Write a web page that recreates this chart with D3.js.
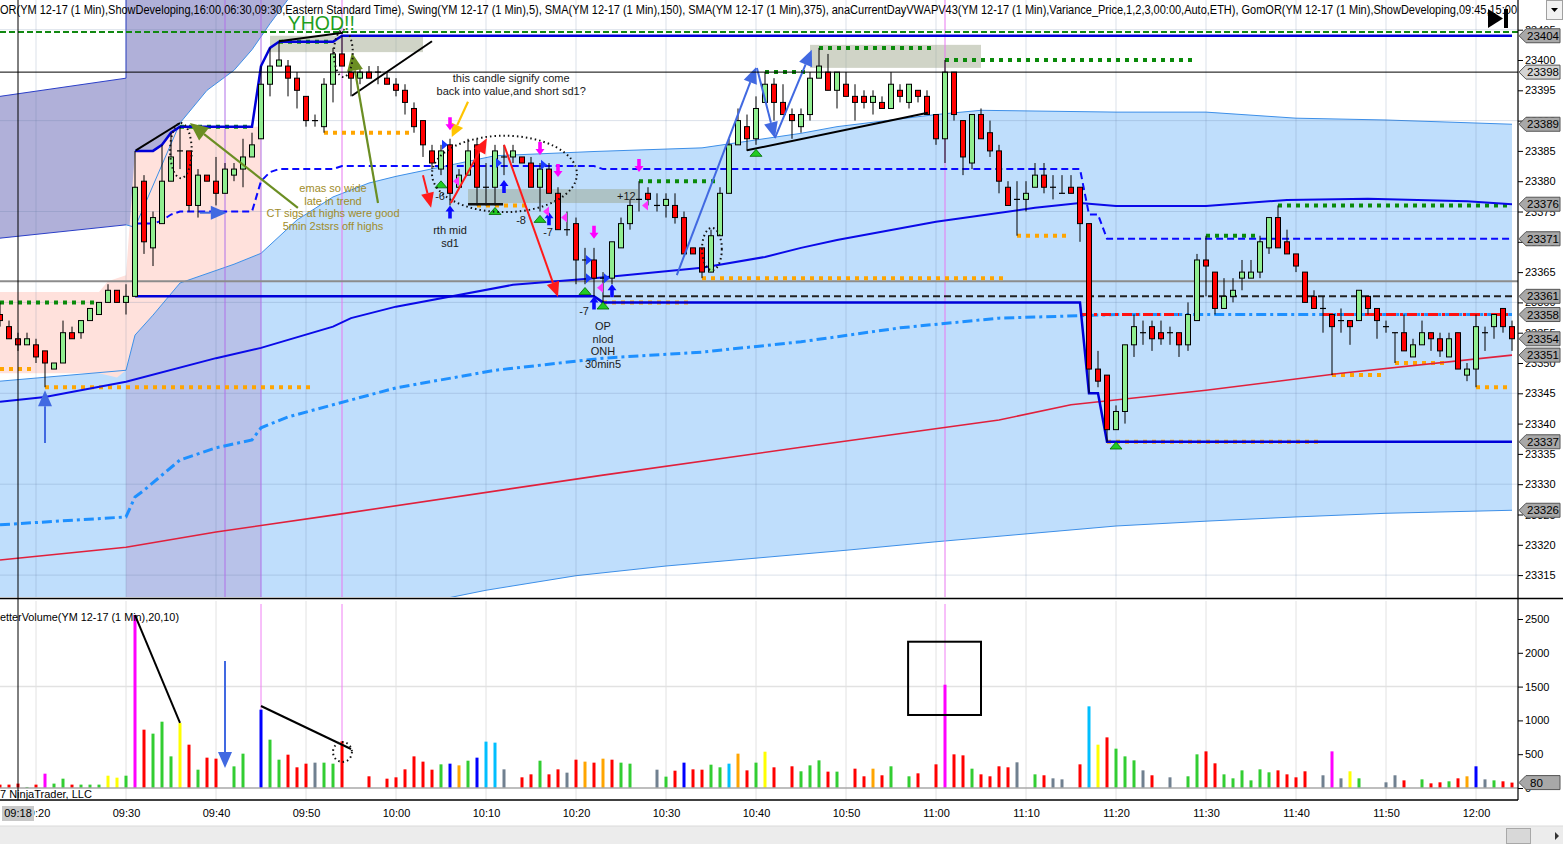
<!DOCTYPE html>
<html>
<head>
<meta charset="utf-8">
<title>YM 12-17 (1 Min)</title>
<script src="https://cdn.jsdelivr.net/npm/d3@7/dist/d3.min.js"></script>
<style>
  html, body { margin: 0; padding: 0; background: #fff; overflow: hidden; }
  svg { display: block; font-family: "Liberation Sans", Arial, sans-serif; }
</style>
</head>
<body>
<svg id="chart" width="1563" height="844"></svg>
<script>
// ---------- 1 minute bars, YM 12-17, first bar 09:16 ----------
const barStart = "09:16";
const opens = [
  23358,23356,23354,23353,23353,23352,23349,23350,23355,23355,
  23357,23358,23360,23362,23360,23361,23380,23369,23373,23380,
  23385,23385,23376,23381,23380,23378,23381,23382,23384,23387,
  23396,23399,23399,23397,23394,23390,23389,23396,23401,23398,
  23397,23398,23398,23397,23396,23395,23392,23390,23385,23382,
  23386,23379,23381,23386,23379,23379,23384,23384,23384,23383,
  23379,23382,23378,23372,23373,23367,23367,23364,23364,23369,
  23373,23377,23378,23376,23376,23376,23374,23369,23369,23365,
  23371,23378,23386,23389,23387,23393,23396,23393,23391,23389,
  23391,23397,23398,23395,23396,23394,23394,23393,23393,23392,
  23395,23393,23395,23394,23391,23387,23398,23390,23383,23391,
  23388,23385,23379,23377,23377,23379,23381,23379,23378,23379,
  23379,23373,23349,23348,23339,23342,23353,23355,23356,23355,
  23355,23355,23353,23357,23367,23365,23359,23361,23364,23364,
  23365,23369,23374,23370,23368,23365,23361,23359,23358,23357,
  23357,23357,23361,23359,23356,23355,23355,23351,23353,23355,
  23354,23351,23355,23348,23349,23355,23356,23359,23356
];
const highs = [
  23360,23357,23355,23355,23354,23352,23350,23357,23356,23357,
  23359,23360,23363,23362,23363,23385,23381,23375,23386,23388,
  23389,23385,23382,23381,23384,23383,23383,23387,23388,23399,
  23402,23403,23400,23398,23394,23391,23397,23402,23404,23399,
  23399,23399,23399,23398,23397,23396,23393,23390,23386,23386,
  23387,23382,23387,23387,23383,23386,23386,23386,23384,23384,
  23383,23383,23379,23375,23374,23369,23369,23365,23370,23374,
  23377,23380,23379,23378,23378,23378,23375,23369,23369,23372,
  23379,23387,23392,23391,23394,23398,23397,23396,23392,23392,
  23398,23402,23401,23398,23398,23396,23395,23395,23394,23398,
  23396,23396,23395,23395,23391,23400,23398,23390,23391,23392,
  23390,23386,23380,23380,23380,23383,23383,23381,23381,23381,
  23379,23373,23352,23348,23343,23353,23358,23357,23357,23357,
  23356,23355,23360,23368,23371,23365,23364,23364,23367,23367,
  23371,23374,23376,23372,23368,23365,23362,23361,23358,23359,
  23357,23362,23361,23359,23357,23355,23358,23354,23357,23355,
  23355,23355,23355,23350,23358,23356,23358,23359,23357
];
const lows = [
  23356,23354,23352,23353,23350,23346,23349,23350,23354,23354,
  23357,23358,23360,23360,23358,23361,23368,23366,23373,23380,
  23382,23375,23374,23380,23376,23378,23380,23379,23384,23387,
  23394,23399,23394,23392,23389,23389,23388,23393,23399,23394,
  23396,23397,23396,23396,23394,23391,23388,23384,23382,23381,
  23376,23379,23381,23376,23376,23376,23381,23383,23383,23379,
  23375,23378,23372,23371,23363,23363,23361,23360,23363,23369,
  23372,23375,23376,23375,23374,23373,23368,23368,23364,23365,
  23371,23378,23386,23385,23386,23393,23390,23391,23387,23388,
  23390,23397,23395,23392,23394,23390,23392,23391,23392,23392,
  23393,23392,23393,23391,23386,23383,23390,23381,23382,23387,
  23384,23378,23376,23371,23375,23379,23378,23377,23378,23378,
  23370,23345,23346,23337,23339,23340,23351,23353,23352,23353,
  23353,23351,23352,23357,23361,23358,23359,23360,23362,23364,
  23364,23368,23369,23368,23365,23360,23359,23355,23348,23355,
  23353,23357,23358,23354,23355,23350,23352,23351,23353,23352,
  23351,23351,23349,23347,23346,23352,23354,23355,23352
];
const closes = [
  23357,23354,23353,23354,23351,23350,23350,23355,23354,23357,
  23359,23360,23362,23360,23361,23379,23370,23374,23380,23384,
  23385,23376,23381,23380,23378,23382,23382,23384,23386,23396,
  23399,23400,23397,23395,23390,23390,23396,23401,23399,23397,
  23398,23397,23398,23396,23395,23393,23389,23386,23383,23385,
  23378,23381,23385,23379,23379,23385,23384,23385,23383,23379,
  23382,23378,23372,23372,23367,23367,23364,23364,23370,23373,
  23376,23377,23377,23376,23377,23374,23368,23368,23365,23371,
  23378,23386,23390,23387,23392,23396,23393,23391,23390,23391,
  23397,23399,23395,23398,23394,23393,23393,23394,23392,23396,
  23394,23396,23394,23391,23387,23398,23391,23384,23391,23387,
  23385,23380,23376,23377,23378,23381,23379,23379,23378,23378,
  23373,23349,23347,23339,23342,23353,23356,23355,23354,23354,
  23355,23353,23358,23367,23366,23359,23361,23362,23365,23365,
  23370,23374,23369,23368,23366,23360,23359,23359,23356,23357,
  23356,23362,23359,23357,23356,23355,23352,23353,23355,23354,
  23352,23354,23349,23349,23356,23355,23358,23356,23354
];
// BetterVolume(20,10)
const volumes = [
  50,50,65,15,50,212,65,138,50,50,
  50,50,182,153,182,2560,863,804,981,468,
  962,641,271,449,434,0,320,508,0,1159,
  715,419,493,306,360,375,375,360,690,0,
  0,173,0,138,158,276,468,390,271,350,
  360,335,404,449,686,671,276,0,158,202,
  404,202,276,227,419,390,375,434,419,375,
  360,0,0,271,168,256,375,276,271,345,
  306,360,508,261,375,537,306,0,321,247,
  335,409,242,242,0,286,173,286,188,321,
  0,173,217,0,350,1528,498,483,286,202,
  173,321,306,380,0,202,188,143,128,0,
  350,1208,641,749,582,468,409,261,188,0,
  158,0,173,498,542,365,202,143,261,113,
  276,232,261,202,158,247,0,188,542,143,
  247,143,0,0,84,188,113,0,128,69,
  84,99,143,173,321,128,113,99,80
];
const volColors = (
  "rrrgrmggrg" + "ggyygmrggg" + "yrgrr-gg-b" + "ggrrrkggr-" + "-r-rrrrrrg" +
  "bogbcck-rr" + "grrkrororg" + "g--kgrbrrg" + "gcorgyr-rg" + "ggrg-rrorg" +
  "-gr-rmrrgr" + "rrrk-grkk-" + "rcyrgggkr-" + "k-ggrrgggg" + "ggrrrr-kmk" +
  "yg--kkr-gr" + "rgrobkgrr").split("");

// ---------- indicators ----------
const vwapUpper = [["09:16",23347],["09:30",23348.8],["09:31",23354.6],["09:33",23357.9],["09:36",23363.2],
  ["09:42",23366.3],["09:45",23368.1],["09:49",23373.6],["09:53",23377.4],["09:57",23379.7],["10:00",23380.8],
  ["10:11",23384.2],["10:22",23384.9],["10:34",23385.5],["10:45",23387.9],["10:49",23389],["11:00",23391],
  ["11:05",23391.7],["11:20",23391.4],["11:30",23391.4],["11:40",23390.4],["11:50",23390.1],["12:04",23389.4]];
const vwapLower = [["09:16",23280],["09:45",23290],["10:00",23305],["10:05",23311],["10:10",23312.5],
  ["10:20",23314.9],["10:30",23316.5],["10:40",23317.8],["10:50",23319.1],["11:00",23320.5],["11:10",23321.8],
  ["11:20",23323.1],["11:30",23323.9],["11:40",23324.6],["11:50",23325.2],["12:04",23325.7]];
const sma150 = [["09:16",23343.6],["09:21",23344.4],["09:30",23346.9],["09:40",23350.8],["09:45",23352.5],
  ["09:53",23356],["09:55",23357.4],["10:00",23359.3],["10:13",23362.9],["10:22",23364],["10:34",23365.7],
  ["10:41",23367.5],["10:45",23369],["10:49",23370.3],["11:00",23373.3],["11:11",23375.6],["11:16",23376.4],
  ["11:20",23375.9],["11:30",23375.9],["11:39",23376.9],["11:48",23377.1],["11:59",23376.7],["12:04",23376.2]];
const sma375 = [["09:16",23317.5],["09:30",23319.6],["09:40",23322.1],["09:53",23324.9],["10:23",23331.5],
  ["10:45",23336.1],["11:07",23340.6],["11:15",23343.1],["11:30",23345.5],["11:45",23348.3],["12:04",23351.3]];
const vwapLine = [["09:16",23323.3],["09:30",23324.6],["09:31",23327.9],["09:32",23329],["09:36",23334],
  ["09:40",23336],["09:44",23337.3],["09:45",23339.3],["09:48",23341.1],["09:53",23343.1],["10:00",23345.9],
  ["10:11",23348.8],["10:23",23350.8],["10:34",23351.8],["10:45",23353.5],["10:56",23355.8],["11:07",23357.4],
  ["11:16",23357.8],["11:20",23358],["12:04",23358]];
const vwapRedSpans = [["11:16","11:27"],["11:43","12:04"]];

// opening range / overnight shading
const purpleTop = [["09:16",23394],["09:30",23397]];
const purpleLow = [["09:16",23370.6],["09:30",23372.8],["09:31",23372.4],["09:36",23389.6],["09:39",23395],
  ["09:42",23398.3],["09:44",23401.7],["09:46",23406],["09:48",23410]];
const pinkTop = [["09:16",23361.7],["09:27",23361.7],["09:28",23363.5],["09:30",23364.5],["09:31",23385],
  ["09:33",23385],["09:34",23386],["09:35",23388],["09:36",23389],["09:45",23389]];
const pinkLow = [["09:16",23348.3],["09:27",23348.3],["09:29",23347.6],["09:30",23348.8],["09:31",23354.6],
  ["09:33",23357.9],["09:36",23363.2],["09:42",23366.3],["09:45",23368.1]];
const orStart = "09:31";

// levels
const yhod = 23404.6;
const onhLevel = 23363.5;
const lodLevel = { p: 23361, from: "10:23" };
const crosshair = { t: "09:18", p: 23398 };
const swingHighs = [["09:16","09:27",23360],["09:36","09:44",23389],["09:47","09:53",23403],["10:27","10:36",23380],
  ["10:41","10:46",23398],["10:47","11:00",23402],["11:01","11:29",23400],["11:30","11:36",23371],["11:38","12:04",23376]];
const swingLows = [["09:16","09:20",23349],["09:21","09:51",23346],["09:52","10:02",23388],["10:09","10:15",23376],
  ["10:23","10:33",23360],["10:34","11:08",23364],["11:09","11:15",23371],["11:19","11:43",23337],
  ["11:44","11:50",23348],["11:51","11:57",23350],["12:00","12:04",23346]];
const sessionLines = ["09:41","09:45","09:54","11:01"];
const volSessionLines = ["09:45","09:54","11:01"];

// signal markers [time, price]
const swingTriangles = [["10:05",23379.4],["10:11",23375],["10:16",23373.7],["10:21",23361.8],["10:23",23359.4],["10:40",23384.6],["11:20",23336.3]];
const downArrows = [["10:06",23389.4],["10:16",23385.3],["10:18",23381.7],["10:22",23371.5],["10:27",23382.5]];
const upArrows = [["10:06",23375],["10:12",23379.2],["10:17",23373.9],["10:22",23360],["10:24",23362]];
const leftMarks = [["10:06",23380],["10:16",23375],["10:18",23374],["10:22",23362.4],["10:27",23376]];
const rightMarks = [["10:06",23386],["10:12",23383],["10:17",23382.7],["10:22",23367],["10:22",23364],["10:24",23364]];

// hand drawn objects [t1, p1, t2, p2]
const grayBoxes = [["09:46",23404,"10:03",23401.3],["10:08",23378.7,"10:26.9",23376.4],["10:46",23402.5,"11:05",23398.7]];
const blackLines = [["09:31.1",23385.1,"09:36",23389.6],["09:47",23403.1,"09:54.1",23404.5],
  ["09:55.1",23394.1,"10:04",23403.1],["10:39",23385.1,"10:59.1",23391.3]];
const blackBar = ["10:08",23376.2,"10:11.9",23376.2];
const oliveArrows = [["09:49.1",23375.6,"09:37.1",23389.6],["09:58",23376.4,"09:55.1",23401.2]];
const blueArrows = [["09:38.2",23374.8,"09:41.2",23374.8],["09:21",23336.8,"09:21",23345.5],
  ["10:31.2",23364.5,"10:40",23398.8],["10:40.1",23398.7,"10:42.1",23387.1],["10:42.1",23387.1,"10:46.2",23401.7]];
const redArrows = [["10:03",23381,"10:03.9",23375.6],["10:06.1",23376.4,"10:10.1",23387.1],["10:12",23386,"10:18",23360.9]];
const yellowArrows = [["10:08",23393.1,"10:06.2",23387.3]];
const ellipses = [["09:34.9",23389.6,"09:37.3",23380.5],["09:53.1",23405,"09:55.2",23397.2],
  ["10:04",23387.5,"10:20.1",23374.9],["10:34",23372.3,"10:36.2",23365.3]];
const volLines = [["09:31",2559,"09:36",962],["09:45",1213,"09:55",577]];
const volArrow = ["09:41",1880,"09:41",296];
const volBox = ["10:56.9",2164,"11:05",1080];
const volEllipse = ["09:53",680,"09:55.1",385];

// text notes [text, time, price]
const yhodNote = ["YHOD!!", "09:51.7", 23405];
const blackNotes = [["this candle signify come","10:12.8",23396.4],["back into value,and short sd1?","10:12.8",23394.2],
  ["rth mid","10:06",23371.3],["sd1","10:06",23369.1],["OP","10:23",23355.4],["nlod","10:23",23353.3],
  ["ONH","10:23",23351.3],["30min5","10:23",23349.2]];
const oliveNotes = [["emas so wide","09:53",23378.2],["late in trend","09:53",23376.1],
  ["CT sigs at highs were good","09:53",23374.1],["5min 2stsrs off highs","09:53",23371.9]];
const countNotes = [["-6","10:04.9",23376.9],["-8","10:13.9",23372.9],["-7","10:16.9",23371],["-7","10:20.9",23357.9],["+12","10:25.6",23376.9]];

const headerText = "OR(YM 12-17 (1 Min),ShowDeveloping,16:00,06:30,09:30,Eastern Standard Time), Swing(YM 12-17 (1 Min),5), SMA(YM 12-17 (1 Min),150), SMA(YM 12-17 (1 Min),375), anaCurrentDayVWAPV43(YM 12-17 (1 Min),Variance_Price,1,2,3,00:00,Auto,ETH), GomOR(YM 12-17 (1 Min),ShowDeveloping,09:45,15:00";
const volHeader = "etterVolume(YM 12-17 (1 Min),20,10)";

// ---------- helpers ----------
const tm = s => { const [h, m] = s.split(':'); return +h * 60 + +m; };
const pad = d3.format('02d');
const fmt = m => pad(Math.floor(m / 60)) + ':' + pad(m % 60);

const W = 1563, plotR = 1518, priceB = 597, volT = 601, volB = 800;
const x = d3.scaleLinear().domain([tm("09:30"), tm("12:00")]).range([126, 1476]);
const y = d3.scaleLinear().domain([23400, 23315]).range([60, 575.1]);
const yv = d3.scaleLinear().domain([0, 2500]).range([788, 619]);

const t0 = tm(barStart);
const bars = opens.map((o, i) => ({ t: t0 + i, o, h: highs[i], l: lows[i], c: closes[i], v: volumes[i], vc: volColors[i] }));

// developing opening range from the first RTH bar
const orBars = [];
let hi = -Infinity, lo = Infinity;
bars.filter(b => b.t >= tm(orStart)).forEach(b => {
  hi = Math.max(hi, b.h); lo = Math.min(lo, b.l);
  orBars.push({ t: b.t, hi, lo, mid: (hi + lo) / 2 });
});

const pts = arr => arr.map(d => [x(tm(d[0])), y(d[1])]);
const lineGen = d3.line();

const svg = d3.select('#chart');
const defs = svg.append('defs');
defs.append('clipPath').attr('id', 'cp').append('rect').attr('x', 0).attr('y', 0).attr('width', plotR).attr('height', priceB);
defs.append('clipPath').attr('id', 'cv').append('rect').attr('x', 0).attr('y', volT).attr('width', plotR).attr('height', volB - volT);

svg.append('rect').attr('width', W).attr('height', 844).attr('fill', '#fff');

const g = svg.append('g').attr('clip-path', 'url(#cp)');

// light blue variance band
g.append('path')
  .attr('d', lineGen(pts(vwapUpper).concat(pts(vwapLower).reverse())) + 'Z')
  .attr('fill', '#bfdefc');

// purple overnight range
const purplePoly = pts(purpleTop)
  .concat([[x(tm("09:30")), -20], [x(tm("09:48")), -20]])
  .concat(pts(purpleLow).reverse());
g.append('path').attr('d', lineGen(purplePoly) + 'Z').attr('fill', '#b0b0d9');

// lavender lower part of the range during the opening
const lavender = vwapUpper.filter(d => tm(d[0]) >= tm("09:30") && tm(d[0]) <= tm("09:45"));
g.append('path')
  .attr('d', lineGen(pts(lavender).concat([[x(tm("09:45")), priceB + 10], [x(tm("09:30")), priceB + 10]])) + 'Z')
  .attr('fill', '#b8c2e9');

// pink developing opening range
g.append('path')
  .attr('d', lineGen(pts(pinkTop).concat(pts(pinkLow).reverse())) + 'Z')
  .attr('fill', '#ffe1dc');

// band edges
g.append('path').attr('d', lineGen(pts(purpleTop).concat([[x(tm("09:30")), -20]])))
  .attr('fill', 'none').attr('stroke', '#2b3fc8').attr('stroke-width', 1);
g.append('path').attr('d', lineGen(pts(purpleLow.slice(0, 2))))
  .attr('fill', 'none').attr('stroke', '#2b3fc8').attr('stroke-width', 1);
g.append('path').attr('d', lineGen(pts(purpleLow.slice(1))))
  .attr('fill', 'none').attr('stroke', '#3d8fe8').attr('stroke-width', 1);
[vwapUpper, vwapLower].forEach(s => g.append('path').attr('d', lineGen(pts(s)))
  .attr('fill', 'none').attr('stroke', '#3d8fe8').attr('stroke-width', 1));

// grid
const gridTimes = d3.range(tm("09:20"), tm("12:00") + 1, 10);
g.selectAll('.vg').data(gridTimes).join('line')
  .attr('x1', d => x(d)).attr('x2', d => x(d)).attr('y1', 0).attr('y2', priceB)
  .attr('stroke', 'rgba(90,120,160,0.22)');
g.selectAll('.hg').data(d3.range(23315, 23406, 15)).join('line')
  .attr('x1', 0).attr('x2', plotR).attr('y1', d => y(d)).attr('y2', d => y(d))
  .attr('stroke', 'rgba(90,120,160,0.22)');

// drawn gray boxes
g.selectAll('.gb').data(grayBoxes).join('rect')
  .attr('x', d => x(tm(d[0]))).attr('y', d => y(d[1]))
  .attr('width', d => x(tm(d[2])) - x(tm(d[0]))).attr('height', d => y(d[3]) - y(d[1]))
  .attr('fill', 'rgba(150,160,130,0.45)');

// session markers
g.selectAll('.sl').data(sessionLines).join('line')
  .attr('x1', d => x(tm(d))).attr('x2', d => x(tm(d))).attr('y1', 0).attr('y2', priceB)
  .attr('stroke', (d, i) => i < 2 ? '#b070e8' : '#e878f0').attr('stroke-width', 1);

// levels
g.append('line').attr('x1', 0).attr('x2', plotR).attr('y1', y(onhLevel)).attr('y2', y(onhLevel))
  .attr('stroke', '#8c8c8c').attr('stroke-width', 2);
g.append('line').attr('x1', 0).attr('x2', plotR).attr('y1', y(yhod)).attr('y2', y(yhod))
  .attr('stroke', '#118811').attr('stroke-width', 2).attr('stroke-dasharray', '6,3');
g.append('line').attr('x1', x(tm(lodLevel.from))).attr('x2', x(tm("12:04"))).attr('y1', y(lodLevel.p)).attr('y2', y(lodLevel.p))
  .attr('stroke', '#222').attr('stroke-width', 2).attr('stroke-dasharray', '7,4');

g.selectAll('.sh').data(swingHighs).join('line')
  .attr('x1', d => x(tm(d[0]))).attr('x2', d => x(tm(d[1]))).attr('y1', d => y(d[2])).attr('y2', d => y(d[2]))
  .attr('stroke', '#0a8a0a').attr('stroke-width', 4).attr('stroke-dasharray', '4,5');
g.selectAll('.sw').data(swingLows).join('line')
  .attr('x1', d => x(tm(d[0]))).attr('x2', d => x(tm(d[1]))).attr('y1', d => y(d[2])).attr('y2', d => y(d[2]))
  .attr('stroke', '#ffa500').attr('stroke-width', 4).attr('stroke-dasharray', '4,5');

// moving averages and vwap
g.append('path').attr('d', lineGen(pts(sma375))).attr('fill', 'none').attr('stroke', '#e0203c').attr('stroke-width', 1.6);
g.append('path').attr('d', lineGen(pts(vwapLine))).attr('fill', 'none').attr('stroke', '#1e90ff')
  .attr('stroke-width', 3).attr('stroke-dasharray', '10,4,3,4');
vwapRedSpans.forEach(s => {
  const seg = [[s[0], 23358], [s[1], 23358]];
  g.append('path').attr('d', lineGen(pts(seg))).attr('fill', 'none').attr('stroke', '#ff1010')
    .attr('stroke-width', 3).attr('stroke-dasharray', '10,4,3,4');
});
g.append('path').attr('d', lineGen(pts(sma150))).attr('fill', 'none').attr('stroke', '#0a0ae8').attr('stroke-width', 2);

// opening range high / low / mid
const orLine = key => d3.line().x(d => x(d.t)).y(d => y(d[key]))(orBars);
g.append('path').attr('d', orLine('mid')).attr('fill', 'none').attr('stroke', '#0a0aff').attr('stroke-width', 2).attr('stroke-dasharray', '7,4');
g.append('path').attr('d', orLine('hi')).attr('fill', 'none').attr('stroke', '#0000d8').attr('stroke-width', 2.5);
g.append('path').attr('d', orLine('lo')).attr('fill', 'none').attr('stroke', '#0000d8').attr('stroke-width', 2.5);

// candles
const cg = g.append('g');
cg.selectAll('.wick').data(bars).join('line')
  .attr('x1', d => x(d.t)).attr('x2', d => x(d.t)).attr('y1', d => y(d.h)).attr('y2', d => y(d.l))
  .attr('stroke', '#000').attr('stroke-width', 1);
cg.selectAll('.body').data(bars.filter(d => d.o !== d.c)).join('rect')
  .attr('x', d => x(d.t) - 2.5).attr('width', 5)
  .attr('y', d => y(Math.max(d.o, d.c))).attr('height', d => y(Math.min(d.o, d.c)) - y(Math.max(d.o, d.c)))
  .attr('fill', d => d.c > d.o ? '#90ee90' : '#ff0000').attr('stroke', '#000').attr('stroke-width', 1);
cg.selectAll('.doji').data(bars.filter(d => d.o === d.c)).join('line')
  .attr('x1', d => x(d.t) - 3).attr('x2', d => x(d.t) + 3).attr('y1', d => y(d.c)).attr('y2', d => y(d.c))
  .attr('stroke', '#000').attr('stroke-width', 1.2);

// arrows
function arrow(sel, x1, y1, x2, y2, color, w, hl, hw) {
  const a = Math.atan2(y2 - y1, x2 - x1);
  const bx = x2 - hl * Math.cos(a), by = y2 - hl * Math.sin(a);
  const px = -Math.sin(a) * hw / 2, py = Math.cos(a) * hw / 2;
  sel.append('line').attr('x1', x1).attr('y1', y1).attr('x2', bx).attr('y2', by)
    .attr('stroke', color).attr('stroke-width', w);
  sel.append('polygon').attr('points', `${x2},${y2} ${bx + px},${by + py} ${bx - px},${by - py}`).attr('fill', color);
}
const drawArrows = (list, color, w, hl, hw) => list.forEach(d =>
  arrow(g, x(tm(d[0])), y(d[1]), x(tm(d[2])), y(d[3]), color, w, hl, hw));

g.selectAll('.bl').data(blackLines).join('line')
  .attr('x1', d => x(tm(d[0]))).attr('y1', d => y(d[1])).attr('x2', d => x(tm(d[2]))).attr('y2', d => y(d[3]))
  .attr('stroke', '#000').attr('stroke-width', 2);
g.append('line').attr('x1', x(tm(blackBar[0]))).attr('x2', x(tm(blackBar[2]))).attr('y1', y(blackBar[1])).attr('y2', y(blackBar[3]))
  .attr('stroke', '#111').attr('stroke-width', 2.5);

drawArrows(oliveArrows, '#6b8e23', 2.2, 18, 16);
drawArrows(blueArrows, '#4169e1', 2, 16, 14);
drawArrows(redArrows, '#ff1a1a', 2, 15, 13);
drawArrows(yellowArrows, '#ffc400', 2.2, 13, 13);

// signal markers
g.selectAll('.tri').data(swingTriangles).join('path')
  .attr('d', d => { const cx = x(tm(d[0])), cy = y(d[1]); return `M${cx},${cy - 4}L${cx + 6},${cy + 3}L${cx - 6},${cy + 3}Z`; })
  .attr('fill', '#22cc22').attr('stroke', '#006600').attr('stroke-width', 0.8);
const bigArrow = dir => d => {
  const cx = x(tm(d[0])), cy = y(d[1]), s = dir;
  return `M${cx - 1.8},${cy - 7 * s}L${cx + 1.8},${cy - 7 * s}L${cx + 1.8},${cy}L${cx + 4.5},${cy}L${cx},${cy + 6 * s}L${cx - 4.5},${cy}L${cx - 1.8},${cy}Z`;
};
g.selectAll('.da').data(downArrows).join('path').attr('d', bigArrow(1)).attr('fill', '#ff00ff');
g.selectAll('.ua').data(upArrows).join('path').attr('d', bigArrow(-1)).attr('fill', '#0a0aff');
g.selectAll('.lm').data(leftMarks).join('path')
  .attr('d', d => { const cx = x(tm(d[0])) + 3, cy = y(d[1]); return `M${cx},${cy}L${cx + 6},${cy - 5}L${cx + 6},${cy + 5}Z`; })
  .attr('fill', '#ff33ff');
g.selectAll('.rm').data(rightMarks).join('path')
  .attr('d', d => { const cx = x(tm(d[0])) - 2, cy = y(d[1]); return `M${cx},${cy}L${cx - 6},${cy - 5}L${cx - 6},${cy + 5}Z`; })
  .attr('fill', '#1a3cff');

// dotted ellipses
g.selectAll('.el').data(ellipses).join('ellipse')
  .attr('cx', d => (x(tm(d[0])) + x(tm(d[2]))) / 2).attr('cy', d => (y(d[1]) + y(d[3])) / 2)
  .attr('rx', d => (x(tm(d[2])) - x(tm(d[0]))) / 2).attr('ry', d => (y(d[3]) - y(d[1])) / 2)
  .attr('fill', 'none').attr('stroke', '#111').attr('stroke-width', 2).attr('stroke-dasharray', '1.5,3');

// notes
g.append('text').attr('x', x(tm(yhodNote[1]))).attr('y', y(yhodNote[2])).attr('text-anchor', 'middle')
  .attr('font-size', 20).attr('fill', '#1e9e1e').attr('textLength', 67).attr('lengthAdjust', 'spacingAndGlyphs')
  .text(yhodNote[0]);
g.selectAll('.bn').data(blackNotes).join('text')
  .attr('x', d => x(tm(d[1]))).attr('y', d => y(d[2])).attr('text-anchor', 'middle')
  .attr('font-size', 11).attr('fill', '#1a1a1a').text(d => d[0]);
g.selectAll('.on').data(oliveNotes).join('text')
  .attr('x', d => x(tm(d[1]))).attr('y', d => y(d[2])).attr('text-anchor', 'middle')
  .attr('font-size', 11).attr('fill', '#a08c2a').text(d => d[0]);
g.selectAll('.cn').data(countNotes).join('text')
  .attr('x', d => x(tm(d[1]))).attr('y', d => y(d[2])).attr('text-anchor', 'middle')
  .attr('font-size', 11).attr('fill', '#1a1a1a').text(d => d[0]);

// ---------- volume panel ----------
const vg = svg.append('g').attr('clip-path', 'url(#cv)');
vg.selectAll('.vgl').data(gridTimes).join('line')
  .attr('x1', d => x(d)).attr('x2', d => x(d)).attr('y1', volT).attr('y2', volB)
  .attr('stroke', '#e2e2e2');
vg.append('line').attr('x1', 0).attr('x2', plotR).attr('y1', yv(1500)).attr('y2', yv(1500)).attr('stroke', '#e2e2e2').attr('stroke-width', 1.5);
vg.selectAll('.vsl').data(volSessionLines).join('line')
  .attr('x1', d => x(tm(d))).attr('x2', d => x(tm(d))).attr('y1', volT + 3).attr('y2', yv(0))
  .attr('stroke', '#f080f4').attr('stroke-width', 1);
const vcol = { r: '#ff0000', g: '#32cd32', y: '#ffff00', m: '#ff00ff', b: '#0000ff', c: '#00bfff', o: '#ffa500', k: '#708090' };
vg.selectAll('.vb').data(bars.filter(d => d.v > 0)).join('rect')
  .attr('x', d => x(d.t) - 1.5).attr('width', 3)
  .attr('y', d => yv(d.v)).attr('height', d => yv(0) - yv(d.v))
  .attr('fill', d => vcol[d.vc]);
vg.append('line').attr('x1', 0).attr('x2', plotR).attr('y1', yv(0)).attr('y2', yv(0)).attr('stroke', '#a8a8a8').attr('stroke-width', 1.5);
vg.selectAll('.vl').data(volLines).join('line')
  .attr('x1', d => x(tm(d[0]))).attr('y1', d => yv(d[1])).attr('x2', d => x(tm(d[2]))).attr('y2', d => yv(d[3]))
  .attr('stroke', '#000').attr('stroke-width', 2);
arrow(vg, x(tm(volArrow[0])), yv(volArrow[1]), x(tm(volArrow[2])), yv(volArrow[3]), '#4169e1', 2, 16, 14);
vg.append('rect').attr('x', x(tm(volBox[0]))).attr('y', yv(volBox[1]))
  .attr('width', x(tm(volBox[2])) - x(tm(volBox[0]))).attr('height', yv(volBox[3]) - yv(volBox[1]))
  .attr('fill', 'none').attr('stroke', '#000').attr('stroke-width', 2);
vg.append('ellipse')
  .attr('cx', (x(tm(volEllipse[0])) + x(tm(volEllipse[2]))) / 2).attr('cy', (yv(volEllipse[1]) + yv(volEllipse[3])) / 2)
  .attr('rx', (x(tm(volEllipse[2])) - x(tm(volEllipse[0]))) / 2).attr('ry', (yv(volEllipse[3]) - yv(volEllipse[1])) / 2)
  .attr('fill', 'none').attr('stroke', '#111').attr('stroke-width', 2).attr('stroke-dasharray', '1.5,3');
vg.append('text').attr('x', 0).attr('y', 621).attr('font-size', 11).attr('textLength', 179).attr('lengthAdjust', 'spacingAndGlyphs').text(volHeader);
vg.append('text').attr('x', 0).attr('y', 798).attr('font-size', 11).text('7 NinjaTrader, LLC');

// crosshair
svg.append('line').attr('x1', 0).attr('x2', plotR).attr('y1', y(crosshair.p)).attr('y2', y(crosshair.p)).attr('stroke', '#000');
svg.append('line').attr('x1', x(tm(crosshair.t))).attr('x2', x(tm(crosshair.t))).attr('y1', 0).attr('y2', volB).attr('stroke', '#000');

// panel frame
svg.append('line').attr('x1', 0).attr('x2', W).attr('y1', 598.5).attr('y2', 598.5).attr('stroke', '#000').attr('stroke-width', 1.5);
svg.append('line').attr('x1', 0).attr('x2', plotR).attr('y1', volB).attr('y2', volB).attr('stroke', '#000').attr('stroke-width', 1.5);
svg.append('line').attr('x1', plotR).attr('x2', plotR).attr('y1', 0).attr('y2', volB).attr('stroke', '#000').attr('stroke-width', 1.2);

// header
svg.append('text').attr('x', 0).attr('y', 14).attr('font-size', 12).attr('fill', '#000')
  .attr('textLength', 1517).attr('lengthAdjust', 'spacingAndGlyphs').text(headerText);
svg.append('path').attr('d', 'M1488,9L1503,18.5L1488,28Z').attr('fill', '#000');
svg.append('rect').attr('x', 1504).attr('y', 9).attr('width', 4).attr('height', 19).attr('fill', '#000');
svg.append('rect').attr('x', 1546.5).attr('y', 0.5).attr('width', 16).attr('height', 19).attr('fill', '#f2f2f2').attr('stroke', '#a0a0a0');
svg.append('path').attr('d', 'M1551,8L1558,8L1554.5,12Z').attr('fill', '#000');

// ---------- axes ----------
const yAxis = d3.axisRight(y).tickValues(d3.range(23315, 23406, 5)).tickSize(5).tickPadding(2).tickFormat(d3.format('d'));
svg.append('g').attr('transform', `translate(${plotR},0)`).call(yAxis)
  .call(s => s.select('.domain').remove())
  .call(s => s.selectAll('text').attr('font-size', 11).attr('font-family', 'Liberation Sans, Arial'));
const vAxis = d3.axisRight(yv).tickValues([0, 500, 1000, 1500, 2000, 2500]).tickSize(5).tickPadding(2).tickFormat(d3.format('d'));
svg.append('g').attr('transform', `translate(${plotR},0)`).call(vAxis)
  .call(s => s.select('.domain').remove())
  .call(s => s.selectAll('text').attr('font-size', 11).attr('font-family', 'Liberation Sans, Arial'));
const xAxis = d3.axisBottom(x).tickValues(gridTimes).tickFormat(fmt).tickSize(0).tickPadding(9);
svg.append('g').attr('transform', `translate(0,${volB})`).call(xAxis)
  .call(s => s.select('.domain').remove())
  .call(s => s.selectAll('text').attr('font-size', 11).attr('font-family', 'Liberation Sans, Arial'));

// right side value tags
const lastOf = arr => arr[arr.length - 1][1];
const lastOr = orBars[orBars.length - 1];
const tags = [
  [lastOr.hi, '#a8a8a8'], [crosshair.p, '#d4d4d4'], [lastOf(vwapUpper), '#a8a8a8'], [lastOf(sma150), '#a8a8a8'],
  [lastOr.mid, '#a8a8a8'], [lodLevel.p, '#a8a8a8'], [lastOf(vwapLine), '#a8a8a8'], [bars[bars.length - 1].c, '#a8a8a8'],
  [lastOf(sma375), '#a8a8a8'], [lastOr.lo, '#a8a8a8'], [lastOf(vwapLower), '#a8a8a8']
];
const tagPath = cy => `M${plotR + 1},${cy}L${plotR + 8},${cy - 7}L${W - 3},${cy - 7}L${W - 3},${cy + 7}L${plotR + 8},${cy + 7}Z`;
tags.forEach(([v, fill]) => {
  const cy = y(v);
  svg.append('path').attr('d', tagPath(cy)).attr('fill', fill).attr('stroke', '#555').attr('stroke-width', 1);
  svg.append('text').attr('x', plotR + 9).attr('y', cy + 4).attr('font-size', 11.5).text(Math.round(v));
});
const lastVol = bars[bars.length - 1].v;
svg.append('path').attr('d', tagPath(yv(lastVol))).attr('fill', '#a8a8a8').attr('stroke', '#555');
svg.append('text').attr('x', plotR + 12).attr('y', yv(lastVol) + 4).attr('font-size', 11.5).text(lastVol);

// crosshair time tag
svg.append('rect').attr('x', 2).attr('y', 806).attr('width', 32).attr('height', 15).attr('fill', '#c8c8c8');
svg.append('text').attr('x', 18).attr('y', 817).attr('text-anchor', 'middle').attr('font-size', 11).text(crosshair.t);

// scrollbar strip
svg.append('rect').attr('x', 0).attr('y', 826).attr('width', W).attr('height', 18).attr('fill', '#ececec');
svg.append('line').attr('x1', 0).attr('x2', W).attr('y1', 826).attr('y2', 826).attr('stroke', '#dadada');
svg.append('rect').attr('x', 1506.5).attr('y', 828.5).attr('width', 24).attr('height', 15).attr('fill', '#d8d8d8').attr('stroke', '#a8a8a8');
svg.append('path').attr('d', 'M1555,832L1559,836L1555,840Z').attr('fill', '#333');
</script>
</body>
</html>
